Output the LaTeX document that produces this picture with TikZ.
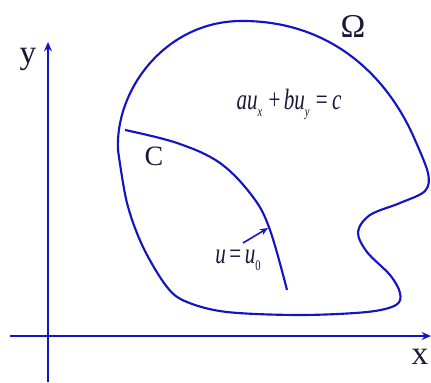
\documentclass[tikz,border=0pt]{standalone}
\usepackage{fontspec}
\setmainfont{Liberation Serif}
\usetikzlibrary{arrows.meta}
\definecolor{lineblue}{RGB}{20,20,195}
\definecolor{txt}{RGB}{25,25,55}
\newcommand{\sbx}[1]{\raisebox{-0.55ex}{\fontsize{11}{11}\selectfont\itshape #1}}
\newcommand{\sbu}[1]{\raisebox{-0.55ex}{\fontsize{11}{11}\selectfont\upshape #1}}
\begin{document}
\begin{tikzpicture}[x=0.75pt,y=-0.75pt,
  curve/.style={lineblue,line width=1.6pt},
  axis/.style={lineblue,line width=1.5pt,-{Stealth[length=7pt,width=6pt]}},
  lbl/.style={txt,font=\fontsize{21}{21}\selectfont,inner sep=0pt},
  axl/.style={txt,font=\fontsize{25}{25}\selectfont,inner sep=0pt},
  eq/.style={txt,font=\fontsize{22}{22}\selectfont,inner sep=0pt,xscale=0.72}]
\useasboundingbox (0,0) rectangle (431,382);
\coordinate (xs) at (10,336);
\coordinate (xe) at (431,336);
\coordinate (ys) at (48,382);
\coordinate (ye) at (48,42);
\draw[axis] (xs) -- (xe);
\draw[axis] (ys) -- (ye);
\node[axl,anchor=base] (ylab) at (28,63) {y};
\node[axl,anchor=base] (xlab) at (420,364) {x};
\node[txt,font=\fontsize{25}{25}\selectfont,inner sep=0pt,anchor=base] (om) at (353,37) {Ω};
\draw[curve,line join=round] (118,150) .. controls (115,90) and (165,22) .. (240,21)
  .. controls (325,20) and (385,70) .. (415,140)
  -- plot[smooth,tension=0.55] coordinates {
 (415,140) (428,173) (425,191) (400,203) (370,215) (358,232) (367,252)
 (390,275) (400,293) (396,305) (367,312) (300,315) (227,312) (187,302)
 (167,287) (143,247) (127,203) (118,150)} -- cycle;
\draw[curve] plot[smooth,tension=0.6] coordinates {
 (125,130) (177,143) (220,163) (253,197) (270,230) (287,290)};
\coordinate (ae) at (268,228);
\coordinate (as) at (243,243);
\draw[lineblue,line width=1.2pt,-{Stealth[length=6pt,width=5pt]}] (as) -- (ae);
\node[lbl,anchor=base] (clab) at (154,165) {C};
\node[eq,anchor=base] (eq1) at (289,109) {\itshape au\sbx{x}\hspace{0.3em}\upshape+\hspace{0.15em}\itshape bu\sbx{y}\hspace{0.3em}\upshape=\hspace{0.2em}\itshape c};
\node[eq,anchor=base] (eq2) at (238,263) {\itshape u\,\upshape=\,\itshape u\sbu{0}};
\end{tikzpicture}
\end{document}
